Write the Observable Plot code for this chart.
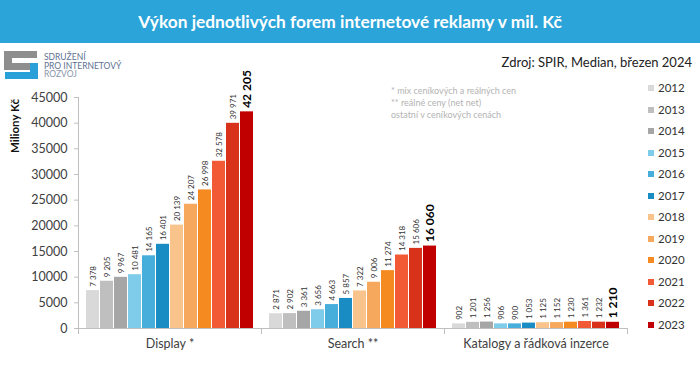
<!DOCTYPE html>
<html>
<head>
<meta charset="utf-8">
<script src="https://cdn.jsdelivr.net/npm/d3@7"></script>
<script src="https://cdn.jsdelivr.net/npm/@observablehq/plot@0.6"></script>
<style>
  html, body { margin: 0; padding: 0; background: #fff; }
  #wrap { position: relative; width: 700px; height: 376px; overflow: hidden; font-family: Lato, "Open Sans", sans-serif; }
  #titlebar { position: absolute; left: 0; top: 0; width: 700px; height: 43px; background: #2ba4d9; }
  #title { position: absolute; left: 0; width: 700px; top: 0; height: 43px; line-height: 43px; text-align: center; color: #fff; font-weight: bold; font-size: 19px; white-space: nowrap; }
  #title span { display: inline-block; }
  #chart { position: absolute; left: 0; top: 44px; }
  #source { position: absolute; right: 8px; top: 54px; font-size: 13px; color: #222; white-space: nowrap; }
  #notes { position: absolute; left: 391px; top: 85px; font-size: 9px; line-height: 12px; color: #b3b3b3; white-space: nowrap; }
  #ytitle { position: absolute; left: 14px; top: 126px; transform: translate(-50%, -50%) rotate(-90deg); font-size: 11.5px; font-weight: bold; color: #111; white-space: nowrap; }
  #legend { position: absolute; left: 648px; top: 81px; }
  .li { position: absolute; left: 0; height: 14px; white-space: nowrap; font-size: 11.5px; color: #333; }
  .li i { position: absolute; left: 0; top: 4px; width: 6px; height: 6px; }
  .li b { position: absolute; left: 10px; top: 0; font-weight: normal; line-height: 14px; }
  #logo { position: absolute; left: 4px; top: 51px; }
  #logotext { position: absolute; left: 44px; top: 53px; font-size: 8.5px; line-height: 8.5px; color: #5d7191; white-space: nowrap; }
</style>
</head>
<body>
<div id="wrap">
  <div id="titlebar"></div>
  <div id="title"><span id="tspan">Výkon jednotlivých forem internetové reklamy v mil. Kč</span></div>
  <svg id="logo" width="36" height="30" viewBox="0 0 36 30">
    <path d="M0 0 H33 V7 H8 V12 H27 V19 H0 Z" fill="#8e8e8e"/>
    <path d="M26 12 H34 V28 H1 V21 H26 Z" fill="#2aa0d8"/>
  </svg>
  <div id="logotext">SDRUŽENÍ<br>PRO INTERNETOVÝ<br><span style="color:#8a97ab">ROZVOJ</span></div>
  <div id="source">Zdroj: SPIR, Median, březen 2024</div>
  <div id="notes">* mix ceníkových a reálných cen<br>** reálné ceny (net net)<br>ostatní v ceníkových cenách</div>
  <div id="ytitle">Miliony Kč</div>
  <div id="chart"></div>
  <div id="legend"></div>
</div>
<script>
// ---- data ----
const categories = ["Display *", "Search **", "Katalogy a řádková inzerce"];
const years = ["2012", "2013", "2014", "2015", "2016", "2017", "2018", "2019", "2020", "2021", "2022", "2023"];
const displayValues = [7378, 9205, 9967, 10481, 14165, 16401, 20139, 24207, 26998, 32578, 39971, 42205];
const searchValues = [2871, 2902, 3361, 3656, 4663, 5857, 7322, 9006, 11274, 14318, 15606, 16060];
const katalogyValues = [902, 1201, 1256, 906, 900, 1053, 1125, 1152, 1230, 1361, 1232, 1210];
const yTicks = [0, 5000, 10000, 15000, 20000, 25000, 30000, 35000, 40000, 45000];
const yearColors = ["#d9d9d9", "#bfbfbf", "#a6a6a6", "#7fcbea", "#47aedb", "#1a8cc4",
                    "#f9c48c", "#f6a95c", "#f58b20", "#f25a35", "#d8321a", "#c00000"];

const seriesValues = [displayValues, searchValues, katalogyValues];
const rows = [];
categories.forEach((cat, ci) => {
  years.forEach((yr, yi) => rows.push({cat, year: yr, value: seriesValues[ci][yi]}));
});
const lastYear = years[years.length - 1];

const loc = d3.formatLocale({decimal: ",", thousands: "\u00a0", grouping: [3], currency: ["", " Kč"]});
const fmt = loc.format(",d");

// ---- layout ----
const W = 700, H = 332, mTop = 53, mBottom = 48, mLeft = 77, mRight = 72;
const frameH = H - mTop - mBottom;
const axisGray = "#bfbfbf";

const chart = Plot.plot({
  width: W, height: H,
  marginTop: mTop, marginBottom: mBottom, marginLeft: mLeft, marginRight: mRight,
  style: {fontFamily: "Lato, 'Open Sans', sans-serif", background: "transparent", overflow: "visible"},
  fx: {domain: categories, padding: 0},
  x: {domain: years, paddingInner: 0.06, paddingOuter: 0.5, axis: null},
  y: {domain: [0, 45000]},
  color: {domain: years, range: yearColors},
  marks: [
    Plot.frame({anchor: "left", facetAnchor: "left", stroke: axisGray}),
    Plot.frame({anchor: "left", stroke: axisGray, insetTop: frameH, insetBottom: -5}),
    Plot.frame({anchor: "right", stroke: axisGray, insetTop: frameH, insetBottom: -5}),
    Plot.axisY({ticks: yTicks, tickFormat: d => String(d), tickSize: 4, tickPadding: 7,
                fontSize: 12.5, stroke: axisGray, fill: "#404040", label: null}),
    Plot.axisFx({anchor: "bottom", tickSize: 0, tickPadding: 11, fontSize: 12.5, color: "#404040", label: null}),
    Plot.barY(rows, {fx: "cat", x: "year", y: "value", fill: "year"}),
    Plot.ruleY([0], {stroke: axisGray}),
    Plot.text(rows.filter(d => d.year !== lastYear), {
      fx: "cat", x: "year", y: "value", text: d => fmt(d.value),
      rotate: -90, textAnchor: "start", dy: -4, fontSize: 8, fill: "#333"
    }),
    Plot.text(rows.filter(d => d.year === lastYear), {
      fx: "cat", x: "year", y: "value", text: d => fmt(d.value),
      rotate: -90, textAnchor: "start", dy: -4, fontSize: 12, fontWeight: "bold", fill: "#000"
    })
  ]
});
document.getElementById("chart").appendChild(chart);

// ---- legend ----
const legend = document.getElementById("legend");
years.forEach((yr, i) => {
  const d = document.createElement("div");
  d.className = "li";
  d.style.top = (i * 21.5) + "px";
  d.innerHTML = `<i style="background:${yearColors[i]}"></i><b>${yr}</b>`;
  legend.appendChild(d);
});

// ---- fit title width ----
const ts = document.getElementById("tspan");
const tw = ts.getBoundingClientRect().width;
if (tw > 0) document.getElementById("title").style.fontSize = (19 * 424 / tw) + "px";
</script>
</body>
</html>
